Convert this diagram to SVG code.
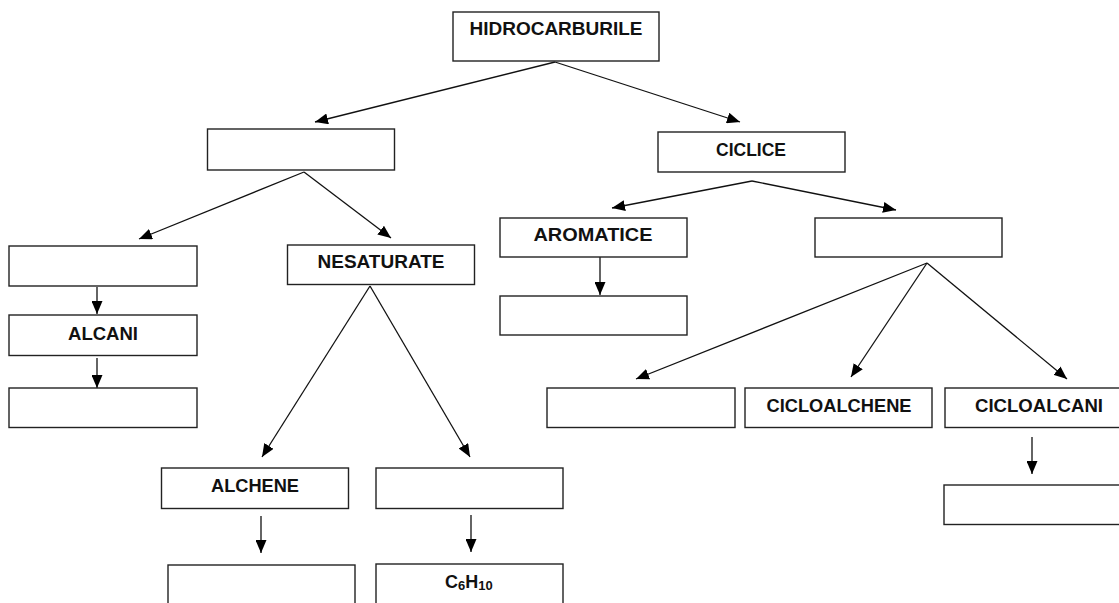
<svg xmlns="http://www.w3.org/2000/svg" width="1119" height="603" viewBox="0 0 1119 603">
<style>
.box{fill:#fff;stroke:#222;stroke-width:1.4}
.lbl{font-family:"Liberation Sans",Arial,sans-serif;font-weight:bold;font-size:18px;fill:#111;text-anchor:middle}
.sub{font-size:13px}
.con{stroke:#111;stroke-width:1.3;fill:none;marker-end:url(#ah)}
</style>
<defs>
<marker id="ah" markerUnits="userSpaceOnUse" markerWidth="13" markerHeight="11" refX="13" refY="5.5" orient="auto">
<path d="M0,0 L13,5.5 L0,11 z" fill="#000"/>
</marker>
</defs>
<rect width="1119" height="603" fill="#fff"/>
<g id="connectors">
<line class="con" x1="555" y1="62" x2="315" y2="122"/>
<line class="con" x1="555" y1="62" x2="740" y2="122"/>
<line class="con" x1="304" y1="172" x2="139" y2="239"/>
<line class="con" x1="304" y1="172" x2="391" y2="238"/>
<line class="con" x1="97" y1="287" x2="97" y2="314"/>
<line class="con" x1="97" y1="358" x2="97" y2="388"/>
<line class="con" x1="370" y1="286" x2="262" y2="457"/>
<line class="con" x1="370" y1="286" x2="470" y2="457"/>
<line class="con" x1="261" y1="516" x2="261" y2="553"/>
<line class="con" x1="471" y1="515" x2="471" y2="552"/>
<line class="con" x1="752" y1="181" x2="612" y2="208"/>
<line class="con" x1="752" y1="181" x2="896" y2="210"/>
<line class="con" x1="600" y1="257" x2="600" y2="295"/>
<line class="con" x1="927" y1="263" x2="636" y2="379"/>
<line class="con" x1="927" y1="263" x2="851" y2="377"/>
<line class="con" x1="927" y1="263" x2="1067" y2="379"/>
<line class="con" x1="1032" y1="437" x2="1032" y2="474"/>
</g>
<g id="hidrocarburile"><rect class="box" x="453" y="12" width="206" height="49"/><text class="lbl" x="556" y="35" textLength="173" lengthAdjust="spacingAndGlyphs">HIDROCARBURILE</text></g>
<g id="aciclice"><rect class="box" x="207.5" y="129" width="187" height="41"/></g>
<g id="ciclice"><rect class="box" x="658" y="132" width="187" height="40"/><text class="lbl" x="751" y="156" textLength="70" lengthAdjust="spacingAndGlyphs">CICLICE</text></g>
<g id="saturate"><rect class="box" x="9" y="246" width="188" height="40"/></g>
<g id="nesaturate"><rect class="box" x="287.5" y="245" width="187" height="39.5"/><text class="lbl" x="381" y="268" textLength="127" lengthAdjust="spacingAndGlyphs">NESATURATE</text></g>
<g id="aromatice"><rect class="box" x="500" y="218" width="187" height="39"/><text class="lbl" x="593" y="241" textLength="119" lengthAdjust="spacingAndGlyphs">AROMATICE</text></g>
<g id="ciclice-nesat"><rect class="box" x="815" y="218" width="187" height="39"/></g>
<g id="alcani"><rect class="box" x="9" y="315" width="188" height="40.5"/><text class="lbl" x="103" y="340" textLength="70" lengthAdjust="spacingAndGlyphs">ALCANI</text></g>
<g id="alcani-ex"><rect class="box" x="9" y="388" width="188" height="39.5"/></g>
<g id="aromatice-ex"><rect class="box" x="500" y="296" width="187" height="39"/></g>
<g id="cicloalchine"><rect class="box" x="547" y="388" width="188" height="39.5"/></g>
<g id="cicloalchene"><rect class="box" x="745" y="388" width="187" height="39.5"/><text class="lbl" x="839" y="412" textLength="145" lengthAdjust="spacingAndGlyphs">CICLOALCHENE</text></g>
<g id="cicloalcani"><rect class="box" x="945" y="388" width="187" height="39.5"/><text class="lbl" x="1039" y="412" textLength="128" lengthAdjust="spacingAndGlyphs">CICLOALCANI</text></g>
<g id="cicloalcani-ex"><rect class="box" x="944" y="485" width="188" height="39.5"/></g>
<g id="alchene"><rect class="box" x="161.5" y="468" width="187" height="40.5"/><text class="lbl" x="255" y="492" textLength="88" lengthAdjust="spacingAndGlyphs">ALCHENE</text></g>
<g id="alchine"><rect class="box" x="376" y="468" width="187" height="40.5"/></g>
<g id="alchene-ex"><rect class="box" x="168" y="565" width="187" height="60"/></g>
<g id="alchine-ex"><rect class="box" x="376" y="564" width="187" height="60"/><text class="lbl" x="445" y="588" style="text-anchor:start">C<tspan class="sub" dy="2">6</tspan><tspan dy="-2">H</tspan><tspan class="sub" dy="2">10</tspan></text></g>
</svg>
